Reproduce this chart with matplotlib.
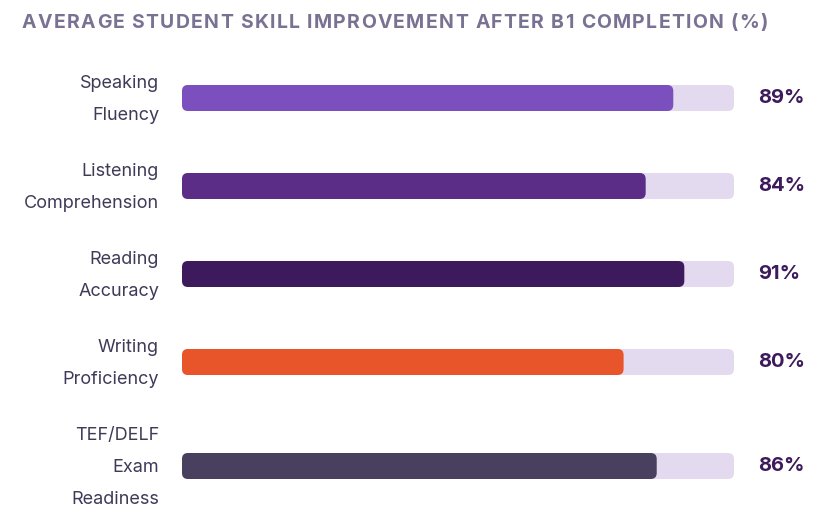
import matplotlib
matplotlib.use("Agg")
import matplotlib.pyplot as plt
from matplotlib.patches import FancyBboxPatch

title = "AVERAGE STUDENT SKILL IMPROVEMENT AFTER B1 COMPLETION (%)"
skills = [["Speaking", "Fluency"],
          ["Listening", "Comprehension"],
          ["Reading", "Accuracy"],
          ["Writing", "Proficiency"],
          ["TEF/DELF", "Exam", "Readiness"]]
values = [89, 84, 91, 80, 86]
colors = ["#7B4FBE", "#5B2D87", "#3D1A5B", "#E8552B", "#48405E"]
track_color = "#E3DAF0"
label_color = "#3F3A58"
value_color = "#3D1A5B"
title_color = "#7A7292"

W, H = 832, 517
fig = plt.figure(figsize=(W / 100, H / 100), dpi=100)
fig.patch.set_facecolor("white")

x0, x1 = 182, 734
ax = fig.add_axes([x0 / W, 0, (x1 - x0) / W, 1])
ax.set_xlim(0, 100)
ax.set_ylim(H, 0)
ax.axis("off")
px_per_x = (x1 - x0) / 100.0

line_h = 32
gap = 24
bar_h = 26
radius = 6
top = 66

y = top
centers = []
for lines in skills:
    rh = len(lines) * line_h
    centers.append(y + rh / 2)
    y += rh + gap

def rbar(xs, width, yc, color):
    p = FancyBboxPatch((xs, yc - bar_h / 2), width, bar_h,
                       boxstyle=f"round,pad=0,rounding_size={radius / px_per_x}",
                       mutation_aspect=px_per_x,
                       facecolor=color, edgecolor="none", clip_on=False)
    ax.add_patch(p)

for lines, v, c, yc in zip(skills, values, colors, centers):
    rbar(0, 100, yc, track_color)
    rbar(0, v, yc, c)
    n = len(lines)
    for i, t in enumerate(lines):
        ly = yc + (i - (n - 1) / 2) * line_h
        ax.text(-(x0 - 159) / px_per_x, ly + 1, t, ha="right", va="center",
                fontsize=13, family="Inter", color=label_color, clip_on=False)
    ax.text(100 + (758 - x1) / px_per_x, yc, f"{v}%", ha="left", va="center",
            fontsize=14.5, family="Inter", fontweight="bold", color=value_color,
            clip_on=False)

# title with letter spacing
renderer = fig.canvas.get_renderer()
tx_start, tx_end, ty = 22, 768, 23
kw = dict(fontsize=14, family="Inter", fontweight="bold", color=title_color,
          va="center", ha="left")
widths = []
for ch in title:
    if ch == " ":
        t = fig.text(0, 0, "a a", **kw)
        w_full = t.get_window_extent(renderer).width
        t.set_text("aa")
        w_no = t.get_window_extent(renderer).width
        t.remove()
        widths.append(w_full - w_no)
    else:
        t = fig.text(0, 0, ch, **kw)
        widths.append(t.get_window_extent(renderer).width)
        t.remove()
spacing = (tx_end - tx_start - sum(widths)) / (len(title) - 1)
xp = tx_start
for ch, w in zip(title, widths):
    if ch != " ":
        fig.text(xp / W, 1 - ty / H, ch, **kw)
    xp += w + spacing

fig.savefig("out.png", dpi=100, facecolor="white")
